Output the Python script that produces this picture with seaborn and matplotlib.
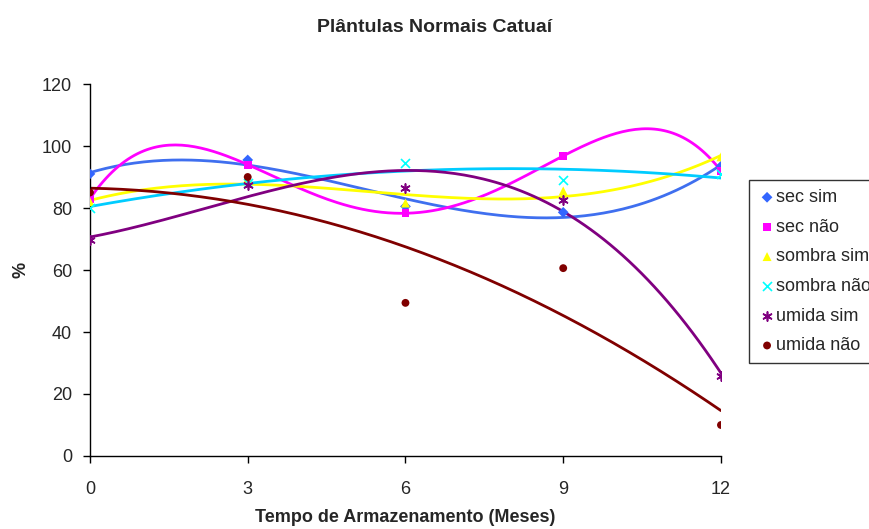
import numpy as np
import pandas as pd
import matplotlib
matplotlib.use("Agg")
import matplotlib.pyplot as plt
import seaborn as sns

sns.set_style("white")
plt.rcParams['font.family'] = ['Liberation Sans', 'DejaVu Sans']

# months of storage
meses = [0, 3, 6, 9, 12]

# germination values (%)
sec_sim = [91, 95.5, 80.5, 78.6, 93.5]
sec_nao = [83, 94, 78.3, 96.8, 92]
sombra_sim = [82, 89.5, 81.6, 85.5, 96.5]
sombra_nao = [80, 88, 94.5, 89, 91]
umida_sim = [69.7, 87.4, 86.5, 82.6, 25.8]
umida_nao = [85, 90, 49.4, 60.6, 10]

series = ['sec sim', 'sec não', 'sombra sim', 'sombra não', 'umida sim', 'umida não']
valores = [sec_sim, sec_nao, sombra_sim, sombra_nao, umida_sim, umida_nao]
# polynomial trend order per series (Excel style trendlines)
ordens = [3, 4, 3, 2, 3, 2]

marker_cols = ['#3366FF', '#FF00FF', '#FFFF00', '#00FFFF', '#800080', '#800000']
line_cols = ['#3F6FEF', '#FF00FF', '#FFFF00', '#00CCFF', '#800080', '#800000']
markers = ['D', 's', '^', 'x', (6, 2, 0), 'o']
msizes = [30, 32, 42, 42, 42, 32]

fig = plt.figure(figsize=(8.7, 5.29), dpi=100)
ax = fig.add_axes([0.1034, 0.138, 0.7253, 0.7032])

xs = np.linspace(0, 12, 200)
for nome, vals, ordem, lc in zip(series, valores, ordens, line_cols):
    coef = np.polyfit(meses, vals, ordem)
    sns.lineplot(x=xs, y=np.polyval(coef, xs), color=lc, linewidth=2, ax=ax,
                 legend=False)

for nome, vals, mc, mk, ms in zip(series, valores, marker_cols, markers, msizes):
    df = pd.DataFrame({'mes': meses, 'pct': vals})
    linhas = mk == 'x' or isinstance(mk, tuple)
    sns.scatterplot(data=df, x='mes', y='pct', color=mc, marker=mk, s=ms,
                    linewidth=1.2 if linhas else 0,
                    edgecolor=mc if linhas else 'none',
                    label=nome, ax=ax, zorder=3)

ax.set_xlim(0, 12)
ax.set_ylim(0, 120)
ax.set_xticks(meses)
ax.set_yticks(range(0, 121, 20))
ax.tick_params(axis='both', direction='out', length=5, width=1, labelsize=13,
               bottom=True, left=True, color='black')
ax.tick_params(axis='x', pad=13)
ax.tick_params(axis='y', pad=8)
for side in ['top', 'right']:
    ax.spines[side].set_visible(False)
for side in ['left', 'bottom']:
    ax.spines[side].set_color('black')
    ax.spines[side].set_linewidth(1)

ax.set_xlabel('Tempo de Armazenamento (Meses)', fontsize=13, fontweight='bold')
ax.xaxis.set_label_coords(0.5, -(518 - 456) / 372, transform=ax.transAxes)
ax.xaxis.label.set_va('center')
ax.set_ylabel('%', fontsize=13, fontweight='bold')
ax.yaxis.set_label_coords(-(90 - 21) / 631, 0.5)
ax.yaxis.label.set_va('center')
fig.text(0.5, 1 - 28 / 529, 'Plântulas Normais Catuaí', fontsize=14,
         fontweight='bold', ha='center', va='center')

# legend runs past the right edge, as in the original chart
leg = ax.legend(loc='upper left', bbox_to_anchor=(749 / 870, 1 - 180 / 529),
                bbox_transform=fig.transFigure, frameon=True, fancybox=False,
                fontsize=13, borderpad=0.5, labelspacing=0.7, handletextpad=0.0,
                handlelength=1.0, borderaxespad=0)
leg.get_frame().set_edgecolor('black')
leg.get_frame().set_linewidth(1)

fig.savefig('out.png', dpi=100)
